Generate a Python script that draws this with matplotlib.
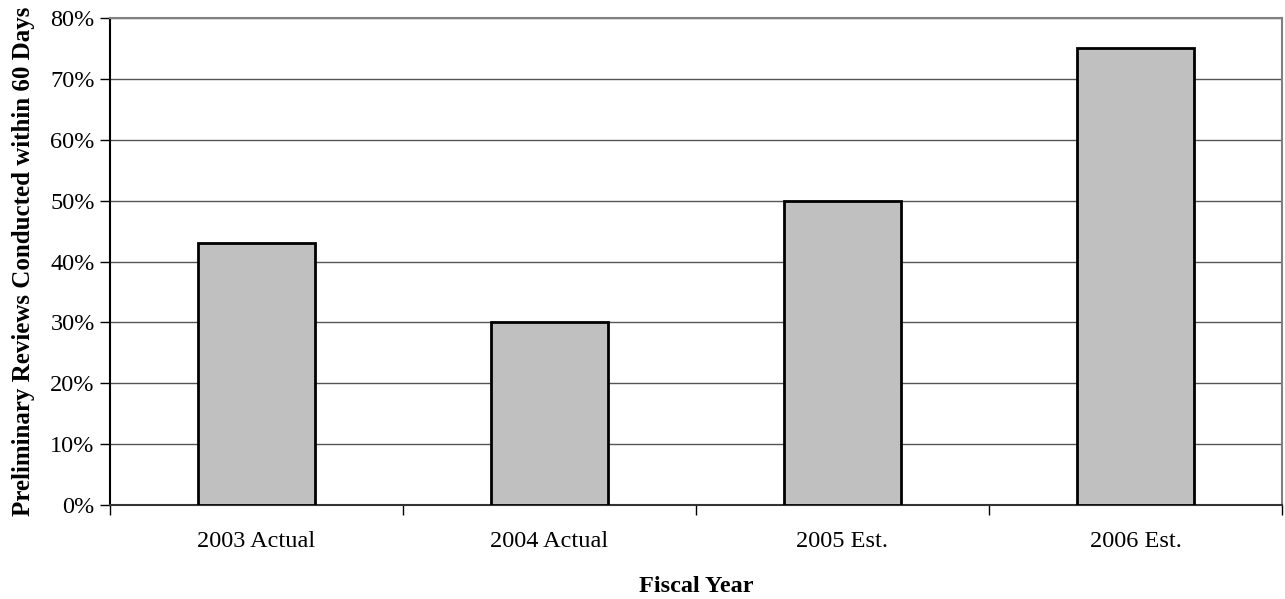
import matplotlib.pyplot as plt
from matplotlib.ticker import FixedLocator, PercentFormatter

categories = ['2003 Actual', '2004 Actual', '2005 Est.', '2006 Est.']
values = [43, 30, 50, 75]
y_ticks = [0, 10, 20, 30, 40, 50, 60, 70, 80]

plt.rcParams['font.family'] = ['Liberation Serif', 'DejaVu Serif']

fig = plt.figure(figsize=(12.85, 5.99), dpi=100)
ax = fig.add_axes([110 / 1285, 1 - 505 / 599, 1172 / 1285, 487 / 599])

x = list(range(len(categories)))
ax.bar(x, values, width=0.4, color='#c0c0c0', edgecolor='black', linewidth=2, zorder=3)

ax.set_xlim(-0.5, len(categories) - 0.5)
ax.set_ylim(0, 80)
ax.set_yticks(y_ticks)
ax.yaxis.set_major_formatter(PercentFormatter(decimals=0))
ax.grid(axis='y', color='#555555', linewidth=1, zorder=0)

# category labels centred, ticks on category boundaries
ax.xaxis.set_major_locator(FixedLocator([i - 0.5 for i in range(len(categories) + 1)]))
ax.xaxis.set_minor_locator(FixedLocator(x))
ax.set_xticklabels([])
ax.set_xticklabels(categories, minor=True)
ax.tick_params(axis='x', which='major', direction='out', length=7, width=1)
ax.tick_params(axis='x', which='minor', length=0, pad=19, labelsize=17.5)
ax.tick_params(axis='y', direction='out', length=7, width=1, labelsize=17.5, pad=4)

ax.spines['left'].set_color('black')
ax.spines['bottom'].set_color('#333333')
ax.spines['top'].set_color('#808080')
ax.spines['right'].set_color('#808080')
for s in ax.spines.values():
    s.set_linewidth(1.5)

ax.set_xlabel('Fiscal Year', fontsize=17.5, fontweight='bold', labelpad=17)
ax.set_ylabel('Preliminary Reviews Conducted within 60 Days', fontsize=18, fontweight='bold', labelpad=11)

plt.savefig('out.png', dpi=100)
